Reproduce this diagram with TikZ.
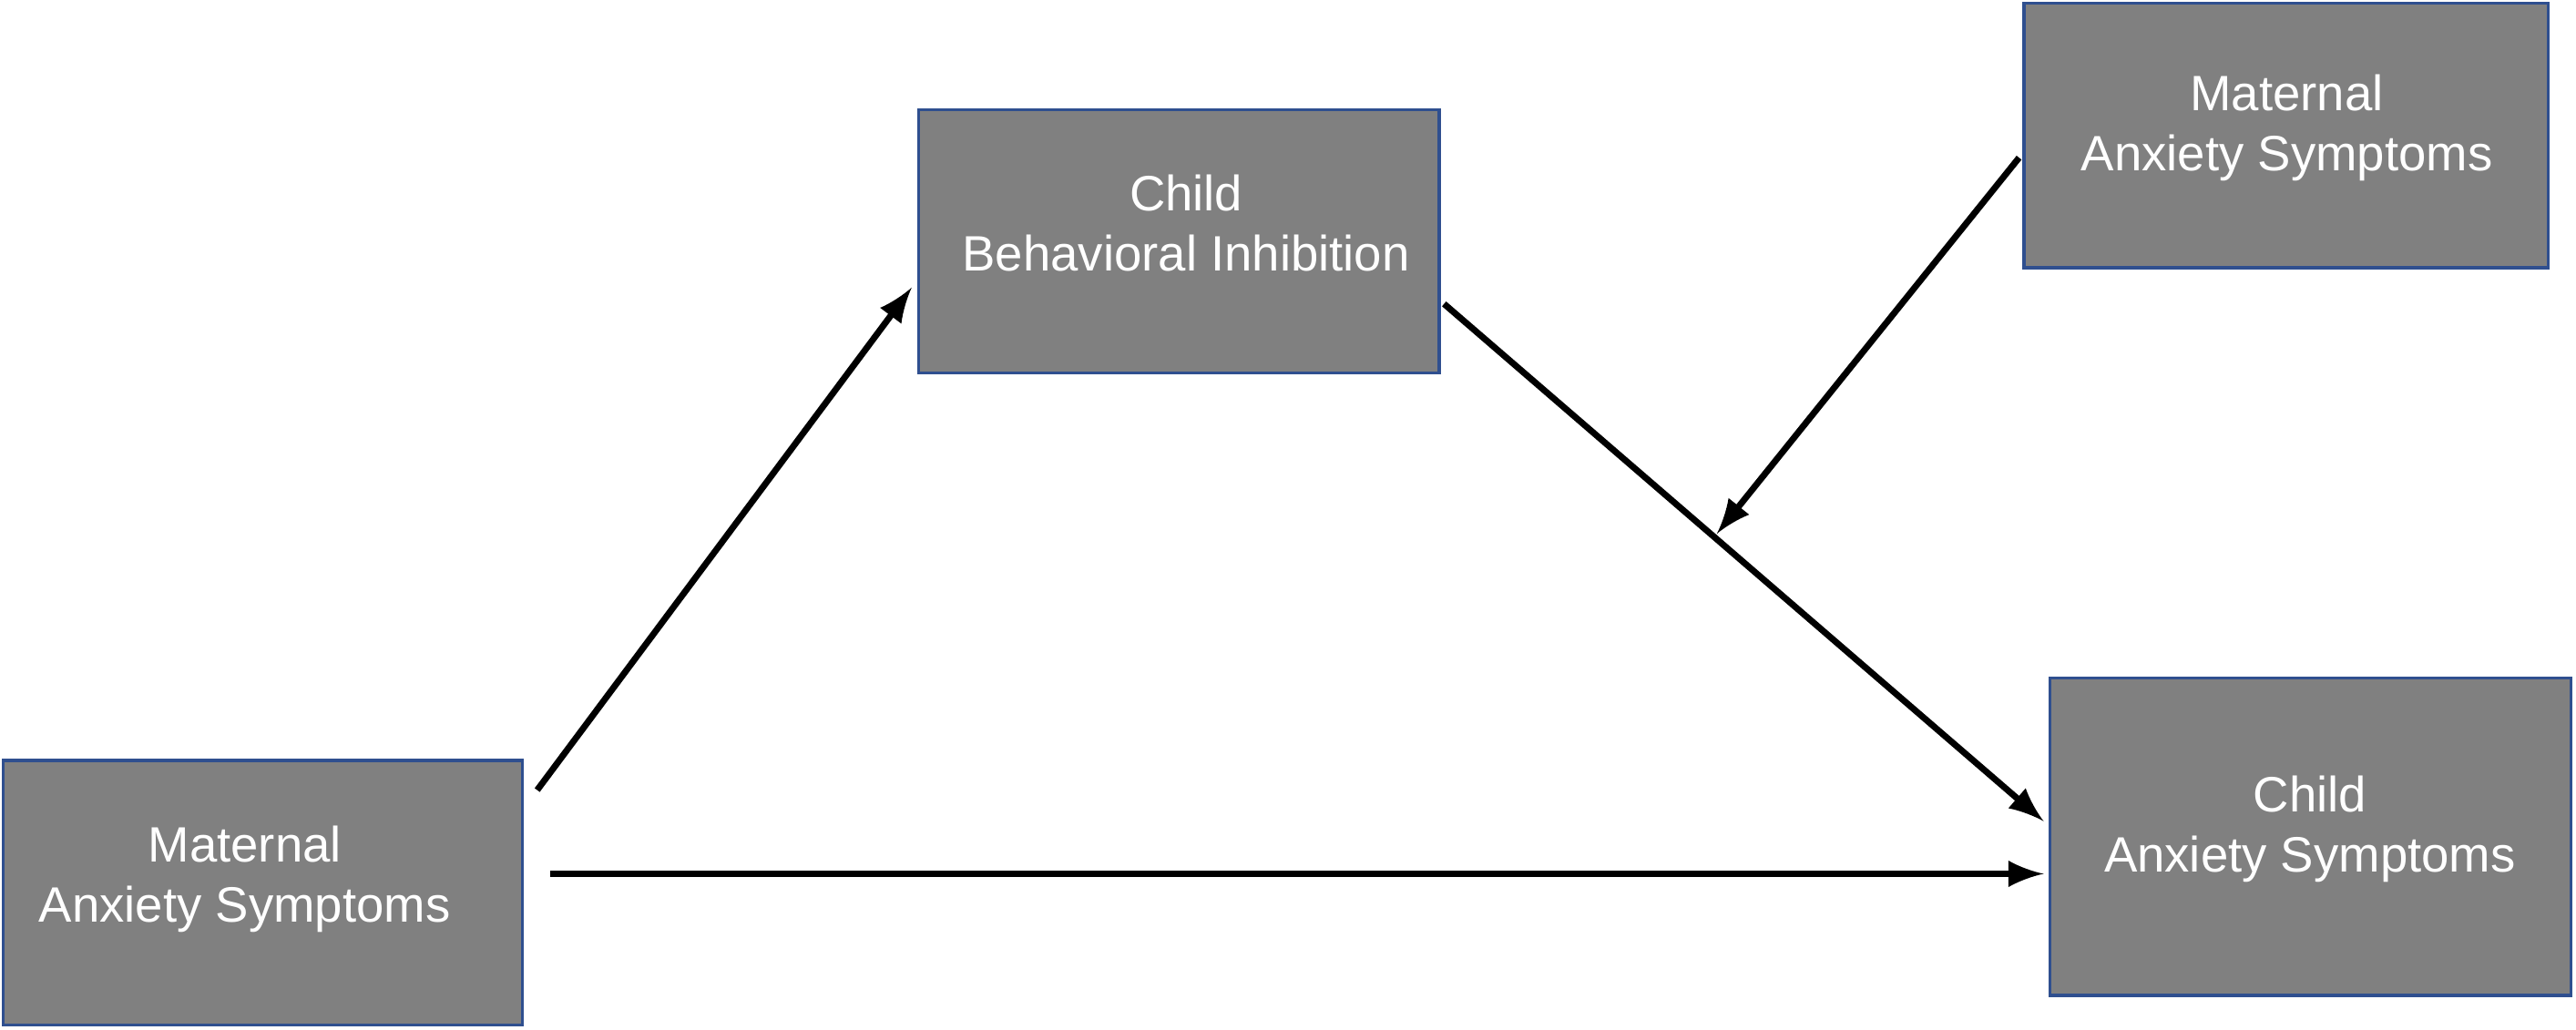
\documentclass[tikz,border=0pt]{standalone}
\usepackage{fontspec}
\setmainfont{Liberation Sans}
\definecolor{bord}{HTML}{2F4F8F}
\begin{document}
\begin{tikzpicture}[x=0.01cm,y=-0.01cm,
 box/.style={draw=bord,line width=0.5pt,fill=black!50},
 lab/.style={text=white,align=center,font=\fontsize{8.6}{10.4}\selectfont},
 arr/.style={-latex,line width=1.1pt}]
\useasboundingbox (0,0) rectangle (1568,627);
\path[box] (2,463) rectangle (318,624);
\node[lab] (mat) at (149,535) {Maternal\\Anxiety Symptoms};
\path[box] (559,67) rectangle (876,227);
\node[lab] (bi) at (722,136) {Child\\Behavioral Inhibition};
\path[box] (1232,2) rectangle (1551,163);
\node[lab] (mod) at (1392,78) {Maternal\\Anxiety Symptoms};
\path[box] (1248,413) rectangle (1565,606);
\node[lab] (ca) at (1406,505) {Child\\Anxiety Symptoms};
\coordinate (a1) at (327,481); \coordinate (a2) at (555,175);
\coordinate (b1) at (335,532); \coordinate (b2) at (1244,532);
\coordinate (c1) at (879,185); \coordinate (c2) at (1244,500);
\coordinate (d1) at (1229,96); \coordinate (d2) at (1045,325);
\draw[arr] (a1) -- (a2);
\draw[arr] (b1) -- (b2);
\draw[arr] (c1) -- (c2);
\draw[arr] (d1) -- (d2);
\end{tikzpicture}
\end{document}
